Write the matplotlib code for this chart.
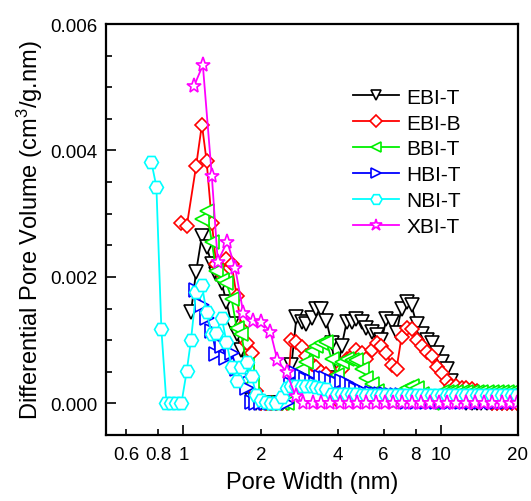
import numpy as np
import matplotlib
matplotlib.use('Agg')
import matplotlib.pyplot as plt
from matplotlib.ticker import FixedLocator, MultipleLocator, FuncFormatter

plt.rcParams['font.family'] = ['Liberation Sans', 'DejaVu Sans']
plt.rcParams['mathtext.default'] = 'regular'

nan = np.nan

# pore width grid (nm) shared by most samples
pore_width = [0.751, 0.785, 0.821, 0.859, 0.898, 0.939, 0.982, 1.03, 1.07, 1.12,
              1.18, 1.23, 1.29, 1.34, 1.41, 1.47, 1.54, 1.61, 1.68, 1.76,
              1.84, 1.92, 2.01, 2.10, 2.20, 2.30, 2.41, 2.52, 2.63, 2.75,
              2.88, 3.01, 3.15, 3.29, 3.44, 3.60, 3.77, 3.94, 4.12, 4.31,
              4.51, 4.71, 4.93, 5.15, 5.39, 5.64, 5.89, 6.16, 6.45, 6.74,
              7.05, 7.37, 7.71, 8.07, 8.44, 8.82, 9.23, 9.65, 10.1, 10.6,
              11.0, 11.5, 12.1, 12.6, 13.2, 13.8, 14.4, 15.1, 15.8, 16.5,
              17.3, 18.1, 18.9, 19.8]

# differential pore volume, units of 1e-3 cm3/g.nm
ebi_t = [nan, nan, nan, nan, nan, nan, nan, nan, 1.44, 2.08,
         2.65, 2.48, 2.20, 2.05, 1.90, 1.60, 1.25, 1.10, 0.85, 0.50,
         0.05, 0.0, 0.0, 0.0, 0.0, 0.0, 0.0, 0.02, 0.60, 1.36,
         1.28, 1.25, 1.35, 1.49, 1.49, 1.30, 0.95, 0.40, 0.90, 1.28,
         1.28, 1.33, 1.28, 1.20, 1.13, 1.08, 1.00, 1.33, 1.28, 1.12,
         1.50, 1.60, 1.55, 1.25, 1.10, 1.00, 0.95, 0.80, 0.65, 0.55,
         0.35, 0.15, 0.05, 0.0, 0.0, 0.0, 0.0, 0.0, 0.0, 0.0,
         0.0, 0.0, 0.0, 0.0]

ebi_b = [nan, nan, nan, nan, nan, nan, 2.86, 2.80, nan, 3.75,
         4.41, 3.84, 2.86, 2.20, 2.05, 2.28, 2.20, 1.70, 1.20, 0.95,
         0.80, 0.20, 0.0, 0.0, 0.0, 0.0, 0.0, 0.0, 1.00, 0.97,
         0.89, 0.75, 0.62, 0.57, 0.50, 0.46, 0.38, 0.05, 0.55, 0.70,
         0.75, 0.85, 0.80, 0.70, 0.85, 0.95, 0.90, 0.80, 0.60, 0.55,
         1.05, 1.20, 1.18, 1.00, 0.90, 0.82, 0.75, 0.58, 0.48, 0.35,
         0.28, 0.27, 0.25, 0.25, 0.22, 0.20, 0.15, 0.10, 0.0, 0.0,
         0.0, 0.0, 0.0, 0.0]

bbi_t = [nan, nan, nan, nan, nan, nan, nan, nan, nan, nan,
         2.92, 3.05, 2.55, 2.10, 1.95, 1.90, 1.65, 1.20, 1.10, 0.60,
         0.30, 0.02, 0.0, 0.0, 0.0, 0.0, 0.0, 0.0, 0.20, 0.35,
         0.55, 0.65, 0.83, 0.90, 0.95, 0.97, 0.70, 0.45, 0.65, 0.70,
         0.68, 0.68, 0.55, 0.40, 0.30, 0.20, 0.10, 0.05, 0.05, 0.10,
         0.20, 0.25, 0.28, 0.25, 0.15, 0.05, 0.0, 0.10, 0.18, 0.18,
         0.18, 0.18, 0.18, 0.18, 0.18, 0.18, 0.18, 0.18, 0.18, 0.18,
         0.18, 0.18, 0.18, 0.18]

hbi_t = [nan, nan, nan, nan, nan, nan, nan, nan, nan, 1.80,
         1.55, 1.35, 1.15, 0.78, 0.90, 0.72, 0.80, 0.55, 0.45, 0.25,
         0.02, 0.0, 0.0, 0.0, 0.0, 0.0, 0.0, 0.0, 0.30, 0.48,
         0.44, 0.38, 0.35, 0.30, 0.42, 0.40, 0.35, 0.32, 0.35, 0.33,
         0.28, 0.22, 0.20, 0.17, 0.17, 0.15, 0.15, 0.15, 0.14, 0.14,
         0.14, 0.02, 0.02, 0.02, 0.02, 0.02, 0.02, 0.02, 0.02, 0.02,
         0.02, 0.02, 0.02, 0.02, 0.02, 0.02, 0.02, 0.02, 0.02, 0.02,
         0.02, 0.02, 0.02, 0.02]

nbi_t = [3.81, 3.43, 1.17, 0.0, 0.0, 0.0, 0.0, 0.51, 1.00, 1.76,
         1.87, 1.44, 1.10, 1.11, 1.35, 0.97, 0.58, 0.36, 0.57, 0.65,
         0.43, 0.14, 0.05, 0.02, 0.0, 0.0, 0.10, 0.25, 0.28, 0.28,
         0.28, 0.27, 0.27, 0.26, 0.25, 0.22, 0.15, 0.15, 0.15, 0.15,
         0.15, 0.15, 0.14, 0.14, 0.14, 0.14, 0.14, 0.14, 0.13, 0.13,
         0.13, 0.13, 0.13, 0.13, 0.13, 0.13, 0.13, 0.13, 0.13, 0.13,
         0.13, 0.13, 0.13, 0.13, 0.13, 0.13, 0.13, 0.13, 0.13, 0.13,
         0.13, 0.13, 0.13, 0.13]

# XBI-T was measured on a coarser grid
xbi_width = [1.10, 1.19, 1.29, 1.36, 1.48, 1.59, 1.71, 1.87, 2.01, 2.18,
             2.32, 2.52, 2.73, 2.93, 3.18, 3.44, 3.73, 4.05, 4.39, 4.75,
             5.15, 5.59, 6.06, 6.56, 7.11, 7.71, 8.36, 9.06, 9.82, 10.6,
             11.5, 12.5, 13.6, 14.7, 15.9, 17.3, 18.7, 19.9]
xbi_t = [5.02, 5.35, 3.59, 2.24, 2.56, 2.14, 1.43, 1.30, 1.29, 1.13,
         0.68, 0.49, 0.11, 0.0, 0.0, 0.0, 0.0, 0.0, 0.0, 0.0,
         0.0, 0.0, 0.0, 0.0, 0.0, 0.0, 0.0, 0.0, 0.0, 0.0,
         0.0, 0.0, 0.0, 0.0, 0.0, 0.0, 0.0, 0.0]

series = [
    ('EBI-T', pore_width, ebi_t, 'black', 'v', 9.5),
    ('EBI-B', pore_width, ebi_b, '#ff0000', 'D', 7.5),
    ('BBI-T', pore_width, bbi_t, '#00f000', '<', 9.5),
    ('HBI-T', pore_width, hbi_t, '#0000ff', '>', 9.5),
    ('NBI-T', pore_width, nbi_t, '#00ffff', 'H', 10),
    ('XBI-T', xbi_width, xbi_t, '#ff00ff', '*', 11),
]

fig = plt.figure(figsize=(5.31, 5.02), dpi=100)
ax = fig.add_axes([106/531, 66/502, 412/531, 411/502])

for name, xs, ys, col, mk, ms in series:
    x = np.array(xs)
    y = np.array(ys) * 1e-3
    ok = ~np.isnan(y)
    ax.plot(x[ok], y[ok], color=col, lw=1.3, marker=mk, ms=ms,
            mfc='white', mec=col, mew=1.2, label=name)

ax.set_xscale('log')
ax.set_xlim(0.5, 20)
ax.set_ylim(-0.0005, 0.006)

ax.xaxis.set_major_locator(FixedLocator([1, 10]))
ax.xaxis.set_minor_locator(FixedLocator([0.6, 0.8, 2, 4, 6, 8, 20]))
fmt = FuncFormatter(lambda v, pos: '{:g}'.format(v))
ax.xaxis.set_major_formatter(fmt)
ax.xaxis.set_minor_formatter(fmt)

ax.yaxis.set_major_locator(MultipleLocator(0.002))
ax.yaxis.set_minor_locator(MultipleLocator(0.0005))
ax.yaxis.set_major_formatter(FuncFormatter(lambda v, pos: '%.3f' % v))

ax.tick_params(which='both', direction='in', top=False, right=False,
               labelsize=13.5, width=1.2)
ax.tick_params(which='major', length=7)
ax.tick_params(which='minor', length=4)
ax.tick_params(axis='x', which='both', pad=8)
ax.tick_params(axis='y', which='both', pad=6)

for s in ax.spines.values():
    s.set_linewidth(1.6)

ax.set_xlabel('Pore Width (nm)', fontsize=17, labelpad=6)
ax.set_ylabel('Differential Pore Volume (cm$^{3}$/g.nm)', fontsize=17, labelpad=4)

ax.legend(loc='upper left', bbox_to_anchor=(0.60, 0.845), frameon=False,
          fontsize=15, handlelength=2.2, handletextpad=0.35, labelspacing=0.33,
          borderpad=0, borderaxespad=0, numpoints=1, markerscale=0.8)

fig.savefig('out.png', dpi=100)
